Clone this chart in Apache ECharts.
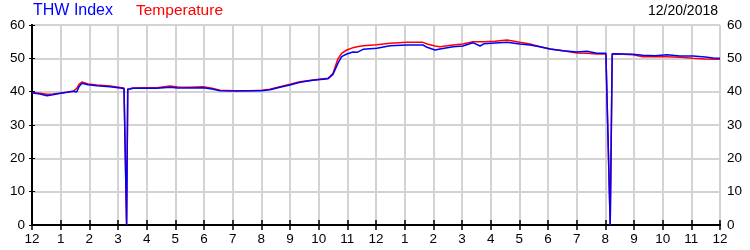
<!DOCTYPE html>
<html>
<head>
<meta charset="utf-8">
<script src="https://cdn.jsdelivr.net/npm/echarts@6/dist/echarts.min.js"></script>
<style>
html,body{margin:0;padding:0;background:#fff;}
#chart{width:750px;height:250px;}
</style>
</head>
<body>
<div id="chart"></div>
<script>
// Time of day in hours since midnight (12/20/2018)
var hours = [0.00,0.28,0.52,0.73,0.98,1.22,1.43,1.56,1.64,1.74,1.85,1.95,2.27,2.72,3.14,3.21,3.30,3.34,3.42,3.52,3.94,4.36,4.81,5.09,5.51,5.97,6.28,6.56,7.08,7.60,8.02,8.30,8.65,9.00,9.35,9.80,10.33,10.50,10.67,10.80,10.98,11.20,11.34,11.55,12.03,12.49,13.08,13.64,13.78,14.06,14.23,14.69,15.03,15.38,15.63,15.77,16.15,16.57,17.02,17.37,17.72,18.07,18.52,19.01,19.36,19.71,20.02,20.08,20.17,20.24,20.61,20.96,21.31,21.73,22.15,22.60,23.06,23.48,23.76,24.00];
var temperature = [39.7,39.5,39.2,39.3,39.5,39.8,40.1,41.0,42.2,42.9,42.6,42.3,42.0,41.7,41.2,41.1,0,40.8,40.9,41.1,41.2,41.2,41.7,41.4,41.3,41.5,41.0,40.4,40.3,40.3,40.4,40.7,41.5,42.2,43.0,43.5,44.0,45.5,49.8,51.5,52.5,53.2,53.5,53.8,54.1,54.5,54.8,54.8,54.3,53.7,53.5,54.0,54.3,55.0,55.0,55.0,55.1,55.5,54.8,54.3,53.5,52.8,52.3,51.6,51.5,51.3,51.3,51.3,0,51.3,51.2,51.1,50.5,50.5,50.5,50.3,50.0,49.8,49.7,49.7];
var thwIndex = [39.7,39.3,38.8,39.1,39.5,39.8,40.1,39.9,41.5,42.5,42.3,42.1,41.8,41.5,41.0,40.9,0,40.7,40.8,41.0,41.0,41.0,41.3,41.1,41.1,41.2,40.8,40.3,40.2,40.3,40.3,40.6,41.3,42.0,42.8,43.4,43.9,45.2,48.5,50.5,51.3,51.9,51.8,52.7,53.0,53.8,54.0,54.0,53.3,52.5,52.8,53.5,53.7,54.7,53.7,54.4,54.6,54.8,54.3,54.0,53.5,52.8,52.3,51.9,52.1,51.5,51.5,51.4,0,51.4,51.3,51.2,50.9,50.8,51.1,50.7,50.7,50.4,50.1,50.0];
var yTicks = [0,10,20,30,40,50,60];
var seriesNames = ['THW Index','Temperature'];
var dateLabel = '12/20/2018';

function pairs(t, v){ return t.map(function(h,i){ return [h, v[i]]; }); }
function hourLabel(h){ var m = h % 12; return String(m === 0 ? 12 : m); }

var FONT = "'Liberation Sans',Arial,sans-serif";
var chart = echarts.init(document.getElementById('chart'), null, {renderer:'canvas'});
var option = {
  animation:false,
  backgroundColor:'#ffffff',
  grid:{left:32,right:30,top:25,bottom:25,containLabel:false},
  graphic:[
    {type:'text',left:33,top:3,style:{text:seriesNames[0],fill:'#0000ff',font:"16px "+FONT}},
    {type:'text',left:136,top:3,style:{text:seriesNames[1],fill:'#ff0000',font:"15.5px "+FONT}},
    {type:'text',right:32,top:4,style:{text:dateLabel,fill:'#000',font:"14px "+FONT}}
  ],
  xAxis:[
    {type:'value',min:0,max:24,interval:1,position:'bottom',
     axisLine:{show:true,lineStyle:{color:'#000',width:2}},
     axisTick:{show:true,inside:true,length:5,lineStyle:{color:'#000',width:1.5}},
     axisLabel:{formatter:hourLabel,color:'#000',fontSize:13.5,fontFamily:FONT,margin:7},
     splitLine:{show:true,lineStyle:{color:'#d3d3d3',width:2}}},
    {type:'value',min:0,max:24,interval:1,position:'top',
     axisLine:{show:true,lineStyle:{color:'#000',width:2}},
     axisTick:{show:true,inside:true,length:5,lineStyle:{color:'#000',width:1.5}},
     axisLabel:{show:false},splitLine:{show:false}}
  ],
  yAxis:[
    {type:'value',min:yTicks[0],max:yTicks[yTicks.length-1],interval:10,position:'left',
     axisLine:{show:true,lineStyle:{color:'#000',width:2}},
     axisTick:{show:true,inside:false,length:3,lineStyle:{color:'#000'}},
     axisLabel:{color:'#000',fontSize:13.5,fontFamily:FONT,margin:7},
     splitLine:{show:true,lineStyle:{color:'#d3d3d3',width:2}}},
    {type:'value',min:yTicks[0],max:yTicks[yTicks.length-1],interval:10,position:'right',
     axisLine:{show:true,lineStyle:{color:'#000',width:2}},
     axisTick:{show:true,inside:false,length:3,lineStyle:{color:'#000'}},
     axisLabel:{color:'#000',fontSize:13.5,fontFamily:FONT,margin:7},
     splitLine:{show:false}}
  ],
  series:[
    {name:seriesNames[1],type:'line',data:pairs(hours,temperature),showSymbol:false,
     lineStyle:{color:'#ff0000',width:1.5},itemStyle:{color:'#ff0000'},z:2},
    {name:seriesNames[0],type:'line',data:pairs(hours,thwIndex),showSymbol:false,
     lineStyle:{color:'#0000ff',width:1.5},itemStyle:{color:'#0000ff'},z:3}
  ]
};
chart.setOption(option);
</script>
</body>
</html>
